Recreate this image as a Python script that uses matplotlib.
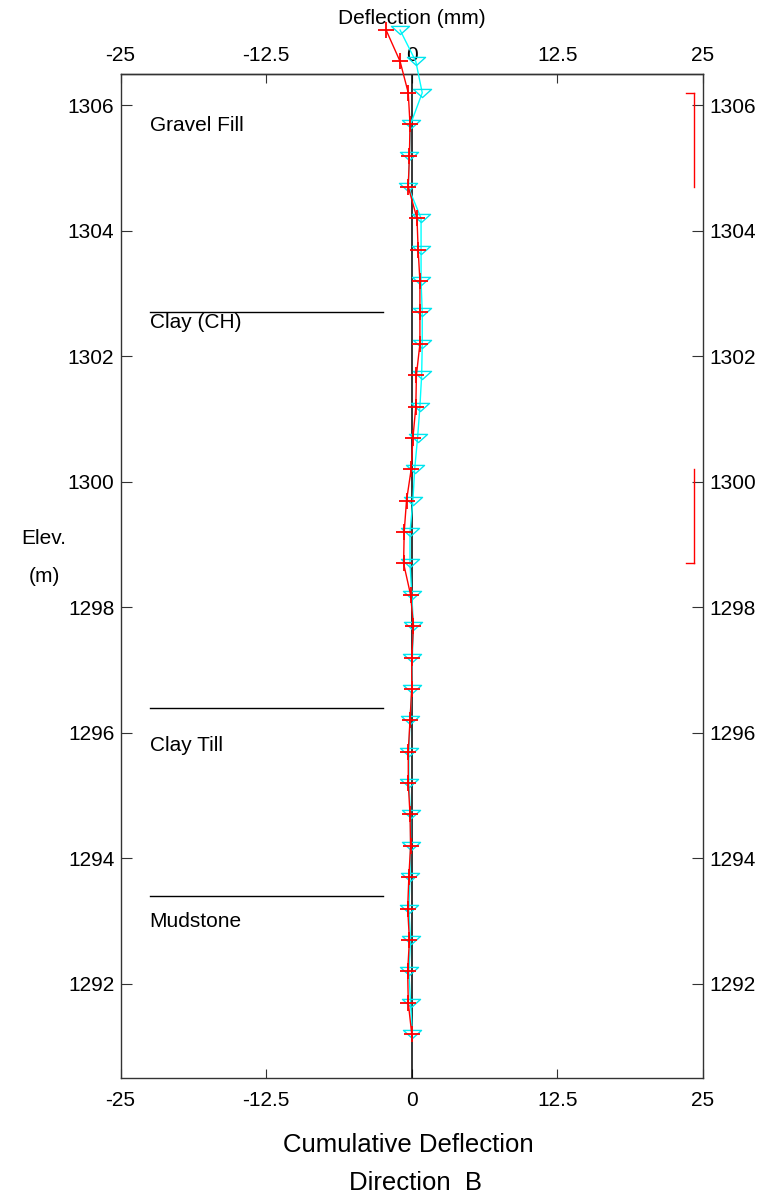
import matplotlib
matplotlib.use("Agg")
import matplotlib.pyplot as plt
from matplotlib.path import Path
import numpy as np

plt.rcParams['font.family'] = ['Liberation Sans', 'DejaVu Sans']

# ---- data ----
elev = [1307.2, 1306.7, 1306.2, 1305.7, 1305.2, 1304.7, 1304.2, 1303.7, 1303.2,
        1302.7, 1302.2, 1301.7, 1301.2, 1300.7, 1300.2, 1299.7, 1299.2, 1298.7,
        1298.2, 1297.7, 1297.2, 1296.7, 1296.2, 1295.7, 1295.2, 1294.7, 1294.2,
        1293.7, 1293.2, 1292.7, 1292.2, 1291.7, 1291.2]
defl_red = [-2.2, -1.0, -0.3, -0.15, -0.2, -0.3, 0.45, 0.55, 0.7,
            0.7, 0.7, 0.4, 0.35, 0.1, -0.05, -0.45, -0.65, -0.7,
            -0.1, 0.15, 0.0, 0.0, -0.15, -0.3, -0.3, -0.15, -0.1,
            -0.25, -0.35, -0.2, -0.35, -0.3, 0.0]
defl_cyan = [-1.0, 0.35, 0.9, -0.1, -0.2, -0.3, 0.8, 0.8, 0.8,
             0.9, 0.9, 0.85, 0.7, 0.5, 0.25, 0.1, -0.15, -0.15,
             0.0, 0.15, 0.05, 0.0, -0.15, -0.25, -0.25, -0.1, -0.1,
             -0.15, -0.25, -0.1, -0.25, -0.1, 0.05]

layer_names = ["Gravel Fill", "Clay (CH)", "Clay Till", "Mudstone"]
layer_text_elev = [1305.68, 1302.54, 1295.8, 1293.0]
layer_bounds = [1302.7, 1296.4, 1293.4]

bracket_ranges = [(1306.2, 1304.7, 'top'), (1300.2, 1298.7, 'bottom')]

xticks = [-25, -12.5, 0, 12.5, 25]
xticklabels = ["-25", "-12.5", "0", "12.5", "25"]
yticks = [1292, 1294, 1296, 1298, 1300, 1302, 1304, 1306]

FS = 15

# ---- figure ----
fig = plt.figure(figsize=(7.81, 11.99), dpi=100)
ax = fig.add_axes([120.5 / 781, 1 - 1078 / 1199, (703 - 120.5) / 781, (1078 - 74) / 1199])
ax.set_xlim(-25, 25)
ax.set_ylim(1290.5, 1306.5)

frame_col = '#333333'
for s in ax.spines.values():
    s.set_color(frame_col)
    s.set_linewidth(1.0)

ax.set_xticks(xticks)
ax.set_xticklabels(xticklabels)
ax.set_yticks(yticks)
ax.tick_params(axis='x', direction='in', length=6.5, width=0.8, colors=frame_col,
               labelcolor='black', labelsize=FS, pad=9.5, top=False, labeltop=False,
               bottom=True, labelbottom=True)
ax.tick_params(axis='y', direction='in', length=8, width=0.8, colors=frame_col,
               labelcolor='black', labelsize=FS, pad=4.5, left=True, labelleft=True,
               right=True, labelright=True)

secx = ax.secondary_xaxis('top')
secx.set_xticks(xticks)
secx.set_xticklabels(xticklabels)
secx.tick_params(direction='in', length=6.5, width=0.8, colors=frame_col,
                 labelcolor='black', labelsize=FS, pad=6.5)
secx.spines['top'].set_color(frame_col)
secx.spines['top'].set_linewidth(1.0)

# zero reference line
ax.axvline(0, color='black', lw=1.1, zorder=2)

# triangle marker (flat, apex down)
tri = Path([(-1, 0.45), (1, 0.45), (0, -0.45), (-1, 0.45)],
           [Path.MOVETO, Path.LINETO, Path.LINETO, Path.CLOSEPOLY])

ax.plot(defl_cyan, elev, color='#00FFFF', lw=1.0, marker=tri, markersize=13,
        markerfacecolor='none', markeredgecolor='#00E5EE', markeredgewidth=1.0,
        clip_on=False, zorder=3)
ax.plot(defl_red, elev, color='#FF0000', lw=1.0, marker='+', markersize=11,
        markeredgewidth=1.3, clip_on=False, zorder=4)

# layer boundaries and names
for b in layer_bounds:
    ax.plot([-22.5, -2.5], [b, b], color='black', lw=1.0, zorder=2)
for name, e in zip(layer_names, layer_text_elev):
    ax.text(-22.5, e, name, fontsize=FS, ha='left', va='center')

# red brackets on the right
bx = 24.2
for top, bot, tick in bracket_ranges:
    ax.plot([bx, bx], [bot, top], color='#FF0000', lw=1.0, zorder=3)
    ty = top if tick == 'top' else bot
    ax.plot([23.5, bx], [ty, ty], color='#FF0000', lw=1.0, zorder=3)

# texts
cx = 412 / 781
fig.text(cx, 1 - 18 / 1199, "Deflection (mm)", fontsize=FS, ha='center', va='center')
fig.text(cx - 0.005, 1 - 1145 / 1199, "Cumulative Deflection", fontsize=18.5, ha='center', va='center')
fig.text(cx + 0.005, 1 - 1183 / 1199, "Direction  B", fontsize=18.5, ha='center', va='center')
fig.text(44 / 781, 1 - 539 / 1199, "Elev.", fontsize=FS, ha='center', va='center')
fig.text(44 / 781, 1 - 577 / 1199, "(m)", fontsize=FS, ha='center', va='center')

fig.savefig("out.png", dpi=100)
